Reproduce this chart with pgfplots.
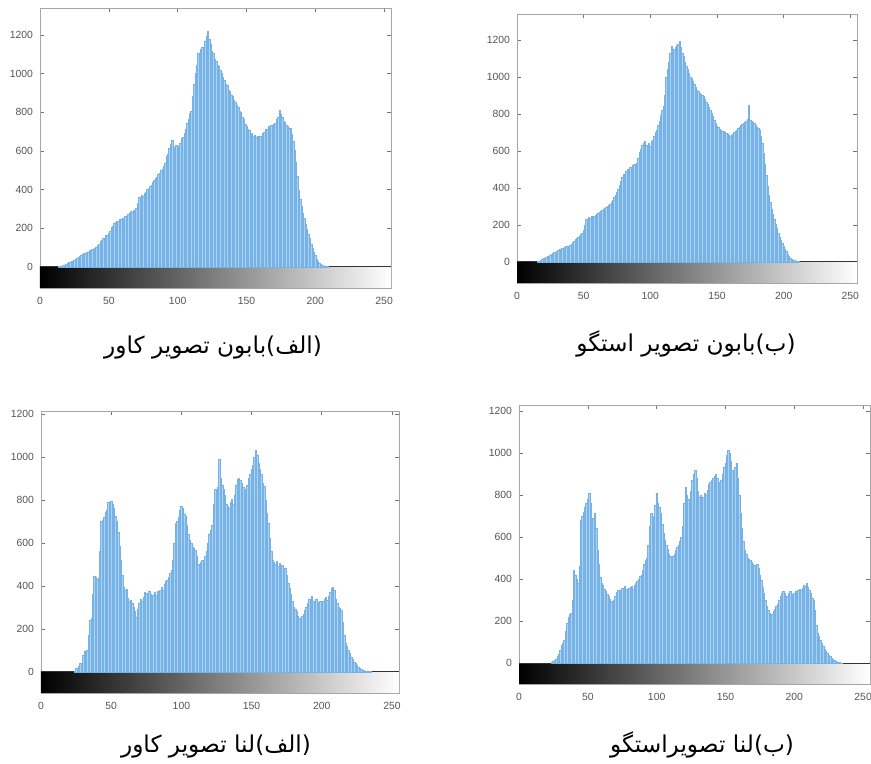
\documentclass[border=0pt]{standalone}
\usepackage{pgfplots}
\pgfplotsset{compat=1.18}
\usepackage{pgfplotstable}
\usepackage{fontspec}
\setmainfont{Liberation Sans}
\newfontfamily\arabicfont[Script=Arabic]{DejaVu Sans}
\TeXXeTstate=1
\definecolor{barblue}{RGB}{118,178,229}
\definecolor{barlight}{RGB}{172,211,241}
\definecolor{ticklbl}{RGB}{85,85,85}
\pgfplotstableread{
x a b c d
13 0 0 0 0
14 1 0 0 0
15 2 0 0 0
16 4 3 0 0
17 6 5 0 0
18 10 8 0 0
19 14 12 0 0
20 18 20 0 0
21 22 22 0 0
22 24 26 0 0
23 30 30 0 0
24 28 32 3 2
25 36 38 15 8
26 40 42 10 12
27 46 46 25 20
28 48 52 39 32
29 56 54 40 40
30 62 58 78 60
31 64 62 95 85
32 70 66 90 95
33 70 70 100 110
34 76 74 170 150
35 78 76 240 190
36 84 80 250 220
37 84 82 360 230
38 90 86 443 237
39 92 84 440 300
40 96 88 430 443
41 104 96 435 420
42 114 104 560 400
43 118 112 700 380
44 132 122 707 460
45 136 128 720 680
46 148 132 745 700
47 150 140 754 720
48 162 150 790 744
49 164 156 770 760
50 172 170 795 780
51 184 200 780 807
52 204 228 760 760
53 210 230 723 672
54 224 240 700 690
55 232 237 650 712
56 238 245 583 640
57 236 240 520 538
58 246 248 450 470
59 244 252 396 410
60 252 255 380 380
61 254 262 385 370
62 264 268 342 350
63 262 272 330 340
64 274 280 335 325
65 276 284 319 316
66 286 290 300 305
67 284 296 280 295
68 294 300 256 285
69 292 305 290 300
70 302 309 319 320
71 330 320 340 335
72 362 335 330 348
73 360 350 345 340
74 370 362 370 345
75 366 375 365 355
76 382 395 340 340
77 386 415 375 364
78 400 435 360 350
79 402 455 350 340
80 418 472 358 355
81 422 470 370 360
82 438 490 355 364
83 446 500 375 350
84 460 495 365 370
85 462 510 381 380
86 482 505 395 390
87 484 520 380 400
88 502 526 410 411
89 504 530 420 420
90 520 534 428 440
91 538 560 440 470
92 574 590 460 490
93 584 610 474 500
94 614 630 520 560
95 636 642 600 650
96 656 650 692 712
97 618 630 700 700
98 614 620 720 680
99 632 640 750 750
100 602 624 770 807
101 622 650 760 760
102 638 660 735 740
103 664 680 723 712
104 672 700 680 660
105 694 714 640 620
106 712 740 614 585
107 744 760 600 560
108 762 790 580 540
109 794 820 575 520
110 808 840 568 506
111 884 900 540 500
112 946 1000 500 510
113 1004 1040 490 520
114 1046 1080 510 538
115 1108 1130 520 550
116 1086 1163 500 560
117 1124 1140 537 580
118 1136 1150 560 601
119 1132 1160 600 650
120 1168 1170 640 760
121 1192 1175 661 838
122 1222 1190 680 800
123 1176 1160 780 780
124 1154 1130 848 759
125 1116 1110 830 820
126 1104 1080 860 870
127 1076 1060 988 900
128 1064 1040 900 917
129 1046 1020 870 880
130 1040 1000 848 820
131 1016 990 820 791
132 1004 975 780 800
133 980 960 770 780
134 968 945 760 791
135 946 930 790 810
136 938 920 801 800
137 916 910 780 822
138 908 905 820 850
139 886 900 870 860
140 884 894 894 870
141 860 880 900 880
142 854 865 890 890
143 836 850 879 901
144 828 835 860 880
145 806 822 840 860
146 798 805 848 838
147 772 785 870 870
148 764 765 900 900
149 736 748 920 930
150 728 732 941 949
151 712 725 960 990
152 708 718 1000 1012
153 692 712 1030 1000
154 690 708 1010 960
155 678 705 970 917
156 680 700 941 900
157 672 695 920 930
158 676 688 880 949
159 666 682 863 880
160 676 678 800 800
161 678 685 740 712
162 694 692 692 640
163 698 700 620 580
164 714 708 560 538
165 714 714 521 520
166 726 722 510 500
167 722 730 500 495
168 734 738 515 490
169 728 744 490 480
170 738 750 505 470
171 742 755 480 465
172 764 760 495 458
173 776 770 474 470
174 812 846 480 450
175 792 768 450 420
176 774 760 412 395
177 752 755 390 360
178 746 750 360 330
179 732 740 330 300
180 730 730 303 269
181 720 720 290 250
182 718 714 280 235
183 688 680 260 221
184 652 640 250 230
185 602 588 241 245
186 542 530 260 255
187 468 470 270 269
188 398 408 288 280
189 348 360 300 300
190 312 320 320 320
191 278 285 340 332
192 252 255 334 340
193 222 230 350 330
194 196 205 330 320
195 168 180 319 316
196 146 156 340 330
197 118 135 325 340
198 96 118 315 320
199 76 100 330 325
200 62 85 319 332
201 40 70 330 340
202 28 55 340 330
203 18 42 345 345
204 12 30 335 350
205 9 22 350 348
206 5 15 370 355
207 3 11 390 370
208 2 9 396 364
209 1 5 380 380
210 0 3 340 360
211 0 1 319 348
212 0 0 300 330
213 0 0 295 310
214 0 0 288 300
215 0 0 230 250
216 0 0 170 180
217 0 0 132 142
218 0 0 120 125
219 0 0 100 110
220 0 0 86 95
221 0 0 70 80
222 0 0 58 66
223 0 0 47 55
224 0 0 38 47
225 0 0 30 38
226 0 0 23 30
227 0 0 18 22
228 0 0 14 16
229 0 0 10 11
230 0 0 8 7
231 0 0 5 5
232 0 0 4 3
233 0 0 3 2
234 0 0 2 1
235 0 0 1 0
}\hist
\pgfplotsset{
  histax/.style={
    scale only axis,
    anchor=south west,
    xmin=0, xmax=255,
    xtick={0,50,...,250},
    ytick={0,200,...,1200},
    tick align=inside,
    major tick length=2pt,
    axis line style={draw=black!35, line width=0.4pt},
    tick style={draw=black!55, line width=0.3pt},
    ticklabel style={font=\fontsize{5.2}{6}\selectfont, text=ticklbl},
    xticklabel style={yshift=-1pt},
    /pgf/number format/assume math mode=true,
    /pgf/number format/1000 sep={},
    unbounded coords=discard,
  },
  histbar/.style={ybar, bar width=1, fill=barlight, draw=barblue, line width=0.28pt, mark=none,
    y filter/.expression={y<0.5 ? nan : y}},
}
\newcommand{\cbar}[1]{%
  \fill[left color=black, right color=white] (axis cs:0,#1) rectangle (axis cs:255,0);
  \draw[black!80, line width=0.5pt] (axis cs:0,0) -- (axis cs:255,0);
}
\begin{document}
\begin{tikzpicture}
\path[use as bounding box] (0,0) rectangle (435.5pt,382pt);
% top left: baboon cover
\begin{axis}[histax, at={(20pt,238pt)}, width=175.5pt, height=140pt, ymin=-109, ymax=1340]
\cbar{-109}
\addplot[histbar] table[x=x, y=a] {\hist};
\end{axis}
% top right: baboon stego
\begin{axis}[histax, at={(258.5pt,240.5pt)}, width=170pt, height=134.5pt, ymin=-114, ymax=1340]
\cbar{-114}
\addplot[histbar] table[x=x, y=b] {\hist};
\end{axis}
% bottom left: lena cover
\begin{axis}[histax, at={(20.5pt,35.5pt)}, width=179pt, height=141pt, ymin=-98, ymax=1214]
\cbar{-98}
\addplot[histbar] table[x=x, y=c] {\hist};
\end{axis}
% bottom right: lena stego
\begin{axis}[histax, at={(259.5pt,40pt)}, width=175.5pt, height=139.5pt, ymin=-100, ymax=1229]
\cbar{-100}
\addplot[histbar] table[x=x, y=d] {\hist};
\end{axis}
\node[font=\arabicfont\fontsize{11.6}{13}\selectfont] at (106.5pt,208pt) {\beginR(الف)بابون تصویر کاور\endR};
\node[font=\arabicfont\fontsize{11.6}{13}\selectfont] at (343pt,210pt) {\beginR(ب)بابون تصویر استگو\endR};
\node[font=\arabicfont\fontsize{11.6}{13}\selectfont] at (108pt,8.5pt) {\beginR(الف)لنا تصویر کاور\endR};
\node[font=\arabicfont\fontsize{11.6}{13}\selectfont] at (351pt,9.5pt) {\beginR(ب)لنا تصویراستگو\endR};
\end{tikzpicture}
\end{document}
